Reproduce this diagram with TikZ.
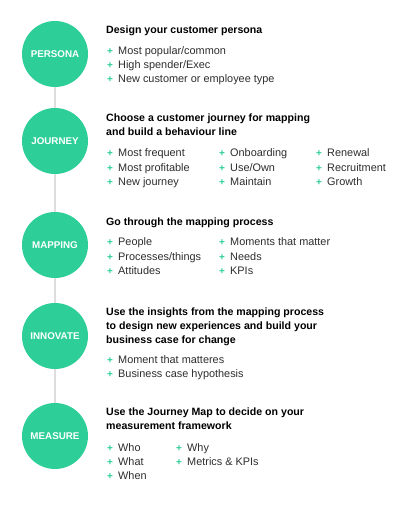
\documentclass[tikz,border=0pt]{standalone}
\usepackage{fontspec}
\setmainfont{Liberation Sans}
\definecolor{mint}{HTML}{2DCE98}
\definecolor{linegrey}{HTML}{DDDDDD}
\definecolor{bodytext}{HTML}{2E2E2E}
\tikzset{
  stage/.style={circle, fill=mint, minimum size=66pt, inner sep=0pt, text=white,
    font=\fontsize{9.8}{11}\selectfont\bfseries},
  heading/.style={anchor=base west, inner sep=0pt, text=black,
    font=\fontsize{10.6}{12}\selectfont\bfseries},
  item/.style={anchor=base west, inner sep=0pt, text=bodytext,
    font=\fontsize{10.9}{12}\selectfont},
  plus/.style={anchor=base west, inner sep=0pt, text=mint,
    font=\fontsize{10}{12}\selectfont\bfseries},
  link/.style={draw=linegrey, line width=1.5pt}
}
\newcommand\bitem[4]{%
  \node[plus] (#1p) at (#2,#3) {+};
  \node[item] (#1) at ({#2+11},#3) {#4};}
\begin{document}
\begin{tikzpicture}[x=1pt,y=-1pt]
\useasboundingbox[fill=white] (0,0) rectangle (411,509);
% stages
\node[stage] (persona) at (55,54) {PERSONA};
\node[stage] (journey) at (55,141) {JOURNEY};
\node[stage] (mapping) at (55,245) {MAPPING};
\node[stage] (innovate) at (55,336) {INNOVATE};
\node[stage] (measure) at (55,436) {MEASURE};
\draw[link] (persona.south) -- (journey.north);
\draw[link] (journey.south) -- (mapping.north);
\draw[link] (mapping.south) -- (innovate.north);
\draw[link] (innovate.south) -- (measure.north);
% persona
\node[heading] (h1) at (106,33) {Design your customer persona};
\bitem{p1}{107}{54}{Most popular/common}
\bitem{p2}{107}{68}{High spender/Exec}
\bitem{p3}{107}{82.5}{New customer or employee type}
% journey
\node[heading] (h2a) at (106,121) {Choose a customer journey for mapping};
\node[heading] (h2b) at (106,135.7) {and build a behaviour line};
\bitem{j1}{107}{156.4}{Most frequent}
\bitem{j2}{107}{171}{Most profitable}
\bitem{j3}{107}{185.4}{New journey}
\bitem{j4}{219}{156.4}{Onboarding}
\bitem{j5}{219}{171}{Use/Own}
\bitem{j6}{219}{185.4}{Maintain}
\bitem{j7}{316}{156.4}{Renewal}
\bitem{j8}{316}{171}{Recruitment}
\bitem{j9}{316}{185.4}{Growth}
% mapping
\node[heading] (h3) at (106,225.7) {Go through the mapping process};
\bitem{m1}{107}{245.7}{People}
\bitem{m2}{107}{260.4}{Processes/things}
\bitem{m3}{107}{274.7}{Attitudes}
\bitem{m4}{219}{245.7}{Moments that matter}
\bitem{m5}{219}{260.4}{Needs}
\bitem{m6}{219}{274.7}{KPIs}
% innovate
\node[heading] (h4a) at (106,315.7) {Use the insights from the mapping process};
\node[heading] (h4b) at (106,329.7) {to design new experiences and build your};
\node[heading] (h4c) at (106,343.7) {business case for change};
\bitem{i1}{107}{363.7}{Moment that matteres}
\bitem{i2}{107}{377.7}{Business case hypothesis}
% measure
\node[heading] (h5a) at (106,415.7) {Use the Journey Map to decide on your};
\node[heading] (h5b) at (106,429.7) {measurement framework};
\bitem{r1}{107}{451}{Who}
\bitem{r2}{107}{465.4}{What}
\bitem{r3}{107}{479.7}{When}
\bitem{r4}{176}{451}{Why}
\bitem{r5}{176}{465.4}{Metrics \& KPIs}
\end{tikzpicture}
\end{document}
